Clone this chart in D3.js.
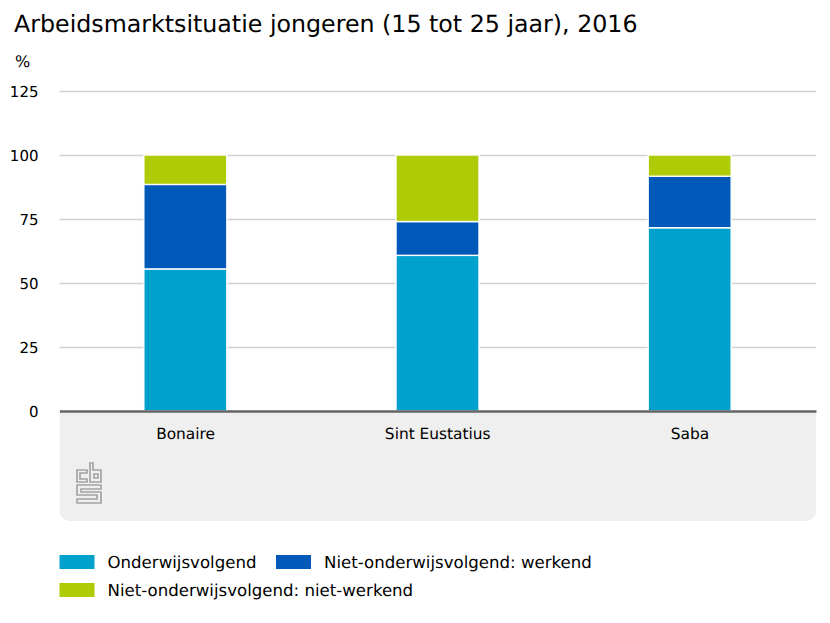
<!DOCTYPE html>
<html>
<head>
<meta charset="utf-8">
<script src="https://cdn.jsdelivr.net/npm/d3@7"></script>
<style>
  body { margin: 0; background: #fff; }
  text { font-family: "DejaVu Sans", sans-serif; fill: #000; text-rendering: geometricPrecision; }
</style>
</head>
<body>
<div id="chart"></div>
<script>
var categories = ['Bonaire', 'Sint Eustatius', 'Saba'];
var seriesNames = ['Onderwijsvolgend', 'Niet-onderwijsvolgend: werkend', 'Niet-onderwijsvolgend: niet-werkend'];
var seriesColors = ['#00a1cd', '#0058b8', '#afcb05'];
var onderwijsvolgend = [55.5, 60.8, 71.6];
var werkend = [33, 13.2, 20.1];
var nietWerkend = [11.5, 26, 8.3];
var yTicks = [0, 25, 50, 75, 100, 125];

var svgWidth = 830;
var svgHeight = 623;
var margin = { top: 91, right: 14, bottom: 212, left: 59.5 };
var width = svgWidth - margin.left - margin.right;
var height = svgHeight - margin.top - margin.bottom;

var svg = d3.select('#chart')
  .append('svg')
  .attr('width', svgWidth)
  .attr('height', svgHeight)
  .style('display', 'block');

svg.append('text')
  .attr('x', 14)
  .attr('y', 32)
  .style('font-size', '23.73px')
  .text('Arbeidsmarktsituatie jongeren (15 tot 25 jaar), 2016');

svg.append('text')
  .attr('x', 15)
  .attr('y', 67)
  .style('font-size', '16px')
  .text('%');

// grey footer panel below the axis, rounded at the bottom only
svg.append('path')
  .attr('d', `M${margin.left},411 H816 V511 a10,10 0 0 1 -10,10 H${margin.left + 10} a10,10 0 0 1 -10,-10 Z`)
  .attr('fill', '#efefef');

var chartGroup = svg.append('g')
  .attr('transform', `translate(${margin.left}, ${margin.top})`);

var x = d3.scaleBand().domain(categories).range([0, width]);
var y = d3.scaleLinear().domain([0, 125]).range([height, 0]);
var barWidth = 83;

// gridlines
var yAxis = d3.axisLeft(y).tickValues(yTicks).tickSize(-width).tickPadding(21);
var yGroup = chartGroup.append('g').call(yAxis);
yGroup.select('.domain').remove();
yGroup.selectAll('line').attr('stroke', '#d2d2d2').attr('stroke-width', 1.3);
yGroup.selectAll('text')
  .attr('dy', '0.37em')
  .style('font-size', '15px')
  .style('font-family', '"DejaVu Sans", sans-serif')
  .attr('fill', '#000');

// stacked bars
var rows = categories.map(function(c, i) {
  return { category: c, s0: onderwijsvolgend[i], s1: werkend[i], s2: nietWerkend[i] };
});
var stacked = d3.stack().keys(['s0', 's1', 's2'])(rows);

chartGroup.selectAll('g.layer')
  .data(stacked)
  .enter()
  .append('g')
  .attr('class', 'layer')
  .attr('fill', (d, i) => seriesColors[i])
  .selectAll('rect')
  .data(d => d)
  .enter()
  .append('rect')
  .attr('x', d => x(d.data.category) + x.bandwidth() / 2 - barWidth / 2 - 0.25)
  .attr('y', d => y(d[1]))
  .attr('width', barWidth)
  .attr('height', d => y(d[0]) - y(d[1]))
  .attr('stroke', '#fff')
  .attr('stroke-width', 1.4);

// x axis
var xAxis = d3.axisBottom(x).tickSize(0).tickPadding(17);
var xGroup = chartGroup.append('g')
  .attr('transform', `translate(0, ${height})`)
  .call(xAxis);
xGroup.select('.domain').attr('stroke', '#666').attr('stroke-width', 2.4);
xGroup.selectAll('text')
  .style('font-size', '15.4px')
  .style('font-family', '"DejaVu Sans", sans-serif')
  .attr('fill', '#000');

// cbs logo
var logo = svg.append('g')
  .attr('fill', 'none')
  .attr('stroke', '#a4a4a4')
  .attr('stroke-width', 1.7);
logo.append('path').attr('d', 'M87,470 H77 V482 H87 V479 H80 V473 H87 Z');
logo.append('path').attr('d', 'M90,463 H93 V470 H101 V482 H90 Z M94,474 H98 V478 H94 Z');
logo.append('path').attr('d', 'M77,485 H101 V489 H81 V492 H101 V503 H77 V499 H97 V495 H77 Z');

// legend
var legendRows = [
  { name: seriesNames[0], color: seriesColors[0], x: 59.5, y: 555 },
  { name: seriesNames[1], color: seriesColors[1], x: 276, y: 555 },
  { name: seriesNames[2], color: seriesColors[2], x: 59.5, y: 583 }
];
var legend = svg.selectAll('g.legend')
  .data(legendRows)
  .enter()
  .append('g')
  .attr('class', 'legend')
  .attr('transform', d => `translate(${d.x}, ${d.y})`);
legend.append('rect')
  .attr('width', 35)
  .attr('height', 14)
  .attr('fill', d => d.color);
legend.append('text')
  .attr('x', 48)
  .attr('y', 13)
  .style('font-size', '16.6px')
  .text(d => d.name);
</script>
</body>
</html>
